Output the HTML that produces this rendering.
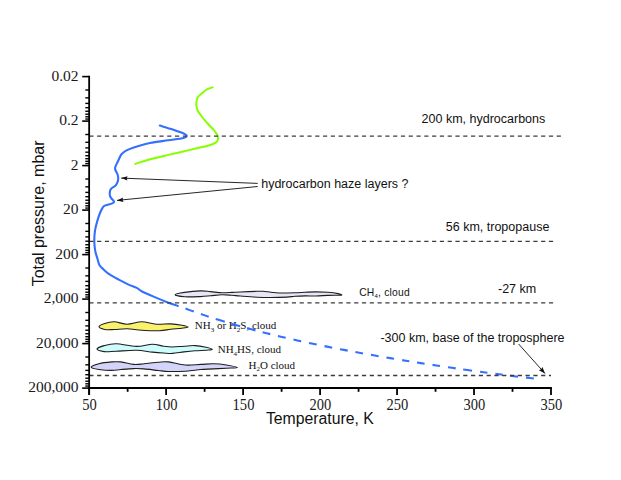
<!DOCTYPE html>
<html><head><meta charset="utf-8"><style>
html,body{margin:0;padding:0;background:#fff;}
svg{display:block;}
.tl{font-family:"Liberation Serif",serif;font-size:15.5px;fill:#1a1a1a;}
.ss{font-family:"Liberation Sans",sans-serif;fill:#111;}
.sf{font-family:"Liberation Serif",serif;fill:#111;}
</style></head><body>
<svg width="621" height="480" viewBox="0 0 621 480">
<rect width="621" height="480" fill="#fff"/>
<text class="ss" style="font-size:12.5px" x="421.6" y="123.4">200 km, hydrocarbons</text>
<text class="ss" style="font-size:12.5px" x="261.2" y="188.2">hydrocarbon haze layers ?</text>
<text class="ss" style="font-size:12.5px" x="445.8" y="231.4">56 km, tropopause</text>
<text class="ss" style="font-size:10.3px;letter-spacing:0.22px" x="359.2" y="295.8">CH<tspan style="font-size:6px" dy="2">4</tspan><tspan dy="-2">, cloud</tspan></text>
<text class="ss" style="font-size:12.5px" x="498" y="293">-27 km</text>
<text class="ss" style="font-size:12.5px" x="380.4" y="341.8">-300 km, base of the troposphere</text>
<text class="sf" style="font-size:11px" x="194.8" y="329.2">NH<tspan style="font-size:7px" dy="2.5">3</tspan><tspan dy="-2.5"> or H</tspan><tspan style="font-size:7px" dy="2.5">2</tspan><tspan dy="-2.5">S, cloud</tspan></text>
<text class="sf" style="font-size:11px" x="217.7" y="353.2">NH<tspan style="font-size:7px" dy="2.5">4</tspan><tspan dy="-2.5">HS, cloud</tspan></text>
<text class="sf" style="font-size:11px" x="248.5" y="368.8">H<tspan style="font-size:7px" dy="2.5">2</tspan><tspan dy="-2.5">O cloud</tspan></text>
<text class="ss" style="font-size:15.8px" x="319.9" y="423.5" text-anchor="middle">Temperature, K</text>
<text class="ss" style="font-size:16px" transform="translate(43.6,213.4) rotate(-90)" text-anchor="middle">Total pressure, mbar</text>
<path d="M175.1,294.7 C175.1,293.97 180.28,293.03 184.5,292.4 C188.72,291.77 196.07,291.03 200.4,290.9 C204.73,290.77 206.9,291.28 210.5,291.6 C214.1,291.92 218.38,292.67 222,292.8 C225.62,292.93 229.15,292.53 232.2,292.4 C235.25,292.27 236.17,292.18 240.3,292 C244.43,291.82 253.22,291.42 257,291.3 C260.78,291.18 260.67,291.15 263,291.3 C265.33,291.45 268.33,291.92 271,292.2 C273.67,292.48 275,292.9 279,293 C283,293.1 290.67,292.92 295,292.8 C299.33,292.68 301.5,292.45 305,292.3 C308.5,292.15 312.17,291.9 316,291.9 C319.83,291.9 324.33,292.02 328,292.3 C331.67,292.58 335.7,293.15 338,293.6 C340.3,294.05 341.8,294.73 341.8,295 C341.8,295.27 340.3,295.13 338,295.2 C335.7,295.27 331.67,295.27 328,295.4 C324.33,295.53 319.83,295.92 316,296 C312.17,296.08 308.5,295.85 305,295.9 C301.5,295.95 298,296.1 295,296.3 C292,296.5 291,296.9 287,297.1 C283,297.3 276,297.48 271,297.5 C266,297.52 262.12,297.45 257,297.2 C251.88,296.95 244.43,296.32 240.3,296 C236.17,295.68 235.25,295.52 232.2,295.3 C229.15,295.08 225.62,294.62 222,294.7 C218.38,294.78 214.1,295.48 210.5,295.8 C206.9,296.12 204.73,296.43 200.4,296.6 C196.07,296.77 188.72,297.12 184.5,296.8 C180.28,296.48 175.1,295.43 175.1,294.7Z" fill="#e6e6f6" stroke="#1e1e1e" stroke-width="1.1"/>
<path d="M99,326.6 C99,325.58 102.15,324.2 104.7,323.4 C107.25,322.6 110.55,321.67 114.3,321.8 C118.05,321.93 122.63,324.2 127.2,324.2 C131.77,324.2 136.87,321.8 141.7,321.8 C146.53,321.8 151.37,323.85 156.2,324.2 C161.03,324.55 166.4,323.72 170.7,323.9 C175,324.08 179.1,324.78 182,325.3 C184.9,325.82 188.1,326.52 188.1,327 C188.1,327.48 184.9,327.82 182,328.2 C179.1,328.58 174.47,328.88 170.7,329.3 C166.93,329.72 164.23,330.55 159.4,330.7 C154.57,330.85 147.07,330.52 141.7,330.2 C136.33,329.88 131.77,328.92 127.2,328.8 C122.63,328.68 118.05,329.38 114.3,329.5 C110.55,329.62 107.25,329.98 104.7,329.5 C102.15,329.02 99,327.62 99,326.6Z" fill="#faf26c" stroke="#1e1e1e" stroke-width="1.1"/>
<path d="M97,349.1 C97,348.1 100.9,346.5 104.1,345.6 C107.3,344.7 110.83,343.57 116.2,343.7 C121.57,343.83 130.27,346.32 136.3,346.4 C142.33,346.48 147.87,344.23 152.4,344.2 C156.93,344.17 160.15,345.73 163.5,346.2 C166.85,346.67 169.08,347 172.5,347 C175.92,347 180.25,346.43 184,346.2 C187.75,345.97 191.33,345.42 195,345.6 C198.67,345.78 203.13,346.65 206,347.3 C208.87,347.95 212.2,349.02 212.2,349.5 C212.2,349.98 208.87,349.98 206,350.2 C203.13,350.42 198.67,350.52 195,350.8 C191.33,351.08 187.75,351.47 184,351.9 C180.25,352.33 175.92,353.22 172.5,353.4 C169.08,353.58 166.85,353.22 163.5,353 C160.15,352.78 156.93,352.55 152.4,352.1 C147.87,351.65 142.33,350.45 136.3,350.3 C130.27,350.15 121.57,350.98 116.2,351.2 C110.83,351.42 107.3,351.95 104.1,351.6 C100.9,351.25 97,350.1 97,349.1Z" fill="#ccfcfc" stroke="#1e1e1e" stroke-width="1.1"/>
<path d="M91.2,367.3 C91.2,366.33 95.47,364.6 98.9,363.7 C102.33,362.8 108.15,362.2 111.8,361.9 C115.45,361.6 117.15,361.48 120.8,361.9 C124.45,362.32 129.83,364.08 133.7,364.4 C137.57,364.72 139.92,364.17 144,363.8 C148.08,363.43 154.13,362.52 158.2,362.2 C162.27,361.88 163.9,361.43 168.4,361.9 C172.9,362.37 179.82,364.58 185.2,365 C190.58,365.42 195.98,364.6 200.7,364.4 C205.42,364.2 209.22,363.7 213.5,363.8 C217.78,363.9 222.42,364.37 226.4,365 C230.38,365.63 237.4,367.07 237.4,367.6 C237.4,368.13 230.38,367.98 226.4,368.2 C222.42,368.42 217.78,368.68 213.5,368.9 C209.22,369.12 203.92,369.28 200.7,369.5 C197.48,369.72 196.78,369.92 194.2,370.2 C191.62,370.48 189.5,370.98 185.2,371.2 C180.9,371.42 172.9,371.62 168.4,371.5 C163.9,371.38 162.27,370.93 158.2,370.5 C154.13,370.07 148.08,369.22 144,368.9 C139.92,368.58 137.57,368.5 133.7,368.6 C129.83,368.7 124.45,369.2 120.8,369.5 C117.15,369.8 115.45,370.4 111.8,370.4 C108.15,370.4 102.33,370.02 98.9,369.5 C95.47,368.98 91.2,368.27 91.2,367.3Z" fill="#d4d4fa" stroke="#1e1e1e" stroke-width="1.1"/>
<path d="M212.6,87.3 C211.65,87.65 208.72,88.37 206.9,89.4 C205.08,90.43 203.27,92.12 201.7,93.5 C200.13,94.88 198.4,95.95 197.5,97.7 C196.6,99.45 196.3,101.92 196.3,104 C196.3,106.08 196.6,108.12 197.5,110.2 C198.4,112.28 199.97,114.24 201.7,116.5 C203.43,118.76 205.83,121.43 207.9,123.75 C209.97,126.07 212.5,128.41 214.1,130.4 C215.7,132.39 216.85,134.18 217.5,135.7 C218.15,137.22 218.3,138.35 218,139.5 C217.7,140.65 217.12,141.65 215.7,142.6 C214.28,143.55 213.58,144.03 209.5,145.2 C205.42,146.37 198.08,147.98 191.2,149.6 C184.32,151.22 175.33,153.22 168.2,154.9 C161.07,156.58 153.9,158.2 148.4,159.7 C142.9,161.2 137.4,163.2 135.2,163.9" fill="none" stroke="#86ff00" stroke-width="2" stroke-linecap="round" stroke-linejoin="round"/>
<path d="M159.8,125.6 C161.97,126.27 169.1,128.4 172.8,129.6 C176.5,130.8 179.7,131.8 182,132.8 C184.3,133.8 186.35,134.73 186.6,135.6 C186.85,136.47 186.57,137.22 183.5,138 C180.43,138.78 173.8,139.47 168.2,140.3 C162.6,141.13 155.63,141.8 149.9,143 C144.17,144.2 137.77,146.23 133.8,147.5 C129.83,148.77 128.18,149.43 126.1,150.6 C124.02,151.77 122.58,152.88 121.3,154.5 C120.02,156.12 119.27,158.55 118.4,160.3 C117.53,162.05 116.65,163.55 116.1,165 C115.55,166.45 114.85,167.42 115.1,169 C115.35,170.58 117.08,172.93 117.6,174.5 C118.12,176.07 118.22,177.12 118.2,178.4 C118.18,179.68 117.93,181.02 117.5,182.2 C117.07,183.38 116.65,184.42 115.6,185.5 C114.55,186.58 112.13,187.75 111.2,188.7 C110.27,189.65 110.22,190.07 110,191.2 C109.78,192.33 109.7,194.33 109.9,195.5 C110.1,196.67 110.52,197.2 111.2,198.2 C111.88,199.2 113.83,200.63 114,201.5 C114.17,202.37 113.73,202.72 112.2,203.4 C110.67,204.08 106.38,204.9 104.8,205.6 C103.22,206.3 103.47,206.45 102.7,207.6 C101.93,208.75 101.07,210.37 100.2,212.5 C99.33,214.63 98.37,217.38 97.5,220.4 C96.63,223.42 95.53,227.07 95,230.6 C94.47,234.13 94.25,238.15 94.3,241.6 C94.35,245.05 94.78,248.48 95.3,251.3 C95.82,254.12 96.7,256.17 97.4,258.5 C98.1,260.83 98.47,263.47 99.5,265.3 C100.53,267.13 101.87,267.93 103.6,269.5 C105.33,271.07 107.29,272.97 109.9,274.7 C112.51,276.43 116.13,278.25 119.25,279.9 C122.37,281.55 125.67,283.27 128.6,284.6 C131.53,285.93 134.63,286.8 136.8,287.9 C138.97,289 138.7,289.7 141.6,291.2 C144.5,292.7 149.85,295.03 154.2,296.9 C158.55,298.77 163.77,300.9 167.7,302.4 C171.63,303.9 176.12,305.32 177.8,305.9" fill="none" stroke="#3470ff" stroke-width="2.1" stroke-linecap="round" stroke-linejoin="round"/>
<path d="M185.5,308.6 L189.65,310.12 L193.8,311.6 M200.9,314.06 L204.8,315.38 L208.7,316.67 M215.7,318.92 L220.25,320.34 L224.8,321.73 M231.2,323.64 L235.7,324.94 L240.2,326.22 M247.1,328.13 L251.3,329.26 L255.5,330.37 M262.6,332.2 L266.45,333.17 L270.3,334.13 M278,335.99 L281.85,336.9 L285.7,337.79 M293.5,339.57 L297.35,340.42 L301.2,341.27 M309,342.94 L312.85,343.75 L316.7,344.55 M324.5,346.13 L328.35,346.9 L332.2,347.66 M340,349.17 L343.85,349.9 L347.7,350.62 M355.4,352.04 L359.2,352.74 L363,353.42 M370.9,354.82 L374.75,355.49 L378.6,356.16 M386.4,357.49 L390.2,358.13 L394,358.76 M402.2,360.11 L405.75,360.69 L409.3,361.26 M417,362.49 L420.8,363.09 L424.6,363.68 M432.5,364.9 L436.25,365.47 L440,366.03 M448,367.22 L451.85,367.79 L455.7,368.35 M463.2,369.43 L467.6,370.05 L472,370.67 M480.1,371.78 L483.75,372.28 L487.4,372.77 M495.4,373.83 L499.05,374.3 L502.7,374.77 M510,375.69 L514,376.18 L518,376.67 M526,377.62 L529.9,378.07 L533.8,378.51 " fill="none" stroke="#3470ff" stroke-width="2.1" stroke-linecap="butt"/>
<line x1="89.3" y1="136.1" x2="561" y2="136.1" stroke="#3c3c3c" stroke-width="1.3" stroke-dasharray="4.2 3.59"/>
<line x1="89.3" y1="241.3" x2="553.5" y2="241.3" stroke="#3c3c3c" stroke-width="1.3" stroke-dasharray="4.2 3.59"/>
<line x1="89.3" y1="302.8" x2="553.5" y2="302.8" stroke="#3c3c3c" stroke-width="1.3" stroke-dasharray="4.2 3.59"/>
<line x1="89.3" y1="375.5" x2="551" y2="375.5" stroke="#3c3c3c" stroke-width="1.3" stroke-dasharray="4.2 3.59"/>
<line x1="89.15" y1="75.8" x2="89.15" y2="394.8" stroke="#000" stroke-width="1.8"/>
<line x1="88.25" y1="388" x2="551.9" y2="388" stroke="#000" stroke-width="1.8"/>
<line x1="82.2" y1="76.6" x2="89.15" y2="76.6" stroke="#000" stroke-width="1.6"/>
<line x1="85.3" y1="90" x2="89.15" y2="90" stroke="#000" stroke-width="1.4"/>
<line x1="85.3" y1="97.83" x2="89.15" y2="97.83" stroke="#000" stroke-width="1.4"/>
<line x1="85.3" y1="103.39" x2="89.15" y2="103.39" stroke="#000" stroke-width="1.4"/>
<line x1="85.3" y1="107.7" x2="89.15" y2="107.7" stroke="#000" stroke-width="1.4"/>
<line x1="85.3" y1="111.23" x2="89.15" y2="111.23" stroke="#000" stroke-width="1.4"/>
<line x1="85.3" y1="114.21" x2="89.15" y2="114.21" stroke="#000" stroke-width="1.4"/>
<line x1="85.3" y1="116.79" x2="89.15" y2="116.79" stroke="#000" stroke-width="1.4"/>
<line x1="85.3" y1="119.06" x2="89.15" y2="119.06" stroke="#000" stroke-width="1.4"/>
<line x1="82.2" y1="121.1" x2="89.15" y2="121.1" stroke="#000" stroke-width="1.6"/>
<line x1="85.3" y1="134.5" x2="89.15" y2="134.5" stroke="#000" stroke-width="1.4"/>
<line x1="85.3" y1="142.33" x2="89.15" y2="142.33" stroke="#000" stroke-width="1.4"/>
<line x1="85.3" y1="147.89" x2="89.15" y2="147.89" stroke="#000" stroke-width="1.4"/>
<line x1="85.3" y1="152.2" x2="89.15" y2="152.2" stroke="#000" stroke-width="1.4"/>
<line x1="85.3" y1="155.73" x2="89.15" y2="155.73" stroke="#000" stroke-width="1.4"/>
<line x1="85.3" y1="158.71" x2="89.15" y2="158.71" stroke="#000" stroke-width="1.4"/>
<line x1="85.3" y1="161.29" x2="89.15" y2="161.29" stroke="#000" stroke-width="1.4"/>
<line x1="85.3" y1="163.56" x2="89.15" y2="163.56" stroke="#000" stroke-width="1.4"/>
<line x1="82.2" y1="165.6" x2="89.15" y2="165.6" stroke="#000" stroke-width="1.6"/>
<line x1="85.3" y1="179" x2="89.15" y2="179" stroke="#000" stroke-width="1.4"/>
<line x1="85.3" y1="186.83" x2="89.15" y2="186.83" stroke="#000" stroke-width="1.4"/>
<line x1="85.3" y1="192.39" x2="89.15" y2="192.39" stroke="#000" stroke-width="1.4"/>
<line x1="85.3" y1="196.7" x2="89.15" y2="196.7" stroke="#000" stroke-width="1.4"/>
<line x1="85.3" y1="200.23" x2="89.15" y2="200.23" stroke="#000" stroke-width="1.4"/>
<line x1="85.3" y1="203.21" x2="89.15" y2="203.21" stroke="#000" stroke-width="1.4"/>
<line x1="85.3" y1="205.79" x2="89.15" y2="205.79" stroke="#000" stroke-width="1.4"/>
<line x1="85.3" y1="208.06" x2="89.15" y2="208.06" stroke="#000" stroke-width="1.4"/>
<line x1="82.2" y1="210.1" x2="89.15" y2="210.1" stroke="#000" stroke-width="1.6"/>
<line x1="85.3" y1="223.5" x2="89.15" y2="223.5" stroke="#000" stroke-width="1.4"/>
<line x1="85.3" y1="231.33" x2="89.15" y2="231.33" stroke="#000" stroke-width="1.4"/>
<line x1="85.3" y1="236.89" x2="89.15" y2="236.89" stroke="#000" stroke-width="1.4"/>
<line x1="85.3" y1="241.2" x2="89.15" y2="241.2" stroke="#000" stroke-width="1.4"/>
<line x1="85.3" y1="244.73" x2="89.15" y2="244.73" stroke="#000" stroke-width="1.4"/>
<line x1="85.3" y1="247.71" x2="89.15" y2="247.71" stroke="#000" stroke-width="1.4"/>
<line x1="85.3" y1="250.29" x2="89.15" y2="250.29" stroke="#000" stroke-width="1.4"/>
<line x1="85.3" y1="252.56" x2="89.15" y2="252.56" stroke="#000" stroke-width="1.4"/>
<line x1="82.2" y1="254.6" x2="89.15" y2="254.6" stroke="#000" stroke-width="1.6"/>
<line x1="85.3" y1="268" x2="89.15" y2="268" stroke="#000" stroke-width="1.4"/>
<line x1="85.3" y1="275.83" x2="89.15" y2="275.83" stroke="#000" stroke-width="1.4"/>
<line x1="85.3" y1="281.39" x2="89.15" y2="281.39" stroke="#000" stroke-width="1.4"/>
<line x1="85.3" y1="285.7" x2="89.15" y2="285.7" stroke="#000" stroke-width="1.4"/>
<line x1="85.3" y1="289.23" x2="89.15" y2="289.23" stroke="#000" stroke-width="1.4"/>
<line x1="85.3" y1="292.21" x2="89.15" y2="292.21" stroke="#000" stroke-width="1.4"/>
<line x1="85.3" y1="294.79" x2="89.15" y2="294.79" stroke="#000" stroke-width="1.4"/>
<line x1="85.3" y1="297.06" x2="89.15" y2="297.06" stroke="#000" stroke-width="1.4"/>
<line x1="82.2" y1="299.1" x2="89.15" y2="299.1" stroke="#000" stroke-width="1.6"/>
<line x1="85.3" y1="312.5" x2="89.15" y2="312.5" stroke="#000" stroke-width="1.4"/>
<line x1="85.3" y1="320.33" x2="89.15" y2="320.33" stroke="#000" stroke-width="1.4"/>
<line x1="85.3" y1="325.89" x2="89.15" y2="325.89" stroke="#000" stroke-width="1.4"/>
<line x1="85.3" y1="330.2" x2="89.15" y2="330.2" stroke="#000" stroke-width="1.4"/>
<line x1="85.3" y1="333.73" x2="89.15" y2="333.73" stroke="#000" stroke-width="1.4"/>
<line x1="85.3" y1="336.71" x2="89.15" y2="336.71" stroke="#000" stroke-width="1.4"/>
<line x1="85.3" y1="339.29" x2="89.15" y2="339.29" stroke="#000" stroke-width="1.4"/>
<line x1="85.3" y1="341.56" x2="89.15" y2="341.56" stroke="#000" stroke-width="1.4"/>
<line x1="82.2" y1="343.6" x2="89.15" y2="343.6" stroke="#000" stroke-width="1.6"/>
<line x1="85.3" y1="357" x2="89.15" y2="357" stroke="#000" stroke-width="1.4"/>
<line x1="85.3" y1="364.83" x2="89.15" y2="364.83" stroke="#000" stroke-width="1.4"/>
<line x1="85.3" y1="370.39" x2="89.15" y2="370.39" stroke="#000" stroke-width="1.4"/>
<line x1="85.3" y1="374.7" x2="89.15" y2="374.7" stroke="#000" stroke-width="1.4"/>
<line x1="85.3" y1="378.23" x2="89.15" y2="378.23" stroke="#000" stroke-width="1.4"/>
<line x1="85.3" y1="381.21" x2="89.15" y2="381.21" stroke="#000" stroke-width="1.4"/>
<line x1="85.3" y1="383.79" x2="89.15" y2="383.79" stroke="#000" stroke-width="1.4"/>
<line x1="85.3" y1="386.06" x2="89.15" y2="386.06" stroke="#000" stroke-width="1.4"/>
<line x1="82.2" y1="388.1" x2="89.15" y2="388.1" stroke="#000" stroke-width="1.6"/>
<line x1="89.15" y1="388" x2="89.15" y2="395" stroke="#000" stroke-width="1.8"/>
<line x1="127.64" y1="388" x2="127.64" y2="391.8" stroke="#000" stroke-width="1.8"/>
<line x1="166.12" y1="388" x2="166.12" y2="395" stroke="#000" stroke-width="1.8"/>
<line x1="204.61" y1="388" x2="204.61" y2="391.8" stroke="#000" stroke-width="1.8"/>
<line x1="243.1" y1="388" x2="243.1" y2="395" stroke="#000" stroke-width="1.8"/>
<line x1="281.59" y1="388" x2="281.59" y2="391.8" stroke="#000" stroke-width="1.8"/>
<line x1="320.08" y1="388" x2="320.08" y2="395" stroke="#000" stroke-width="1.8"/>
<line x1="358.56" y1="388" x2="358.56" y2="391.8" stroke="#000" stroke-width="1.8"/>
<line x1="397.05" y1="388" x2="397.05" y2="395" stroke="#000" stroke-width="1.8"/>
<line x1="435.54" y1="388" x2="435.54" y2="391.8" stroke="#000" stroke-width="1.8"/>
<line x1="474.02" y1="388" x2="474.02" y2="395" stroke="#000" stroke-width="1.8"/>
<line x1="512.51" y1="388" x2="512.51" y2="391.8" stroke="#000" stroke-width="1.8"/>
<line x1="551" y1="388" x2="551" y2="395" stroke="#000" stroke-width="1.8"/>
<text x="78.6" y="80.7" class="tl" text-anchor="end">0.02</text>
<text x="78.6" y="125.2" class="tl" text-anchor="end">0.2</text>
<text x="78.6" y="169.7" class="tl" text-anchor="end">2</text>
<text x="78.6" y="214.2" class="tl" text-anchor="end">20</text>
<text x="78.6" y="258.7" class="tl" text-anchor="end">200</text>
<text x="78.6" y="303.2" class="tl" text-anchor="end">2,000</text>
<text x="78.6" y="347.7" class="tl" text-anchor="end">20,000</text>
<text x="78.6" y="392.2" class="tl" text-anchor="end">200,000</text>
<text transform="translate(89.55,410.2) scale(0.92,1)" class="tl" style="font-size:15.8px" text-anchor="middle">50</text>
<text transform="translate(166.53,410.2) scale(0.92,1)" class="tl" style="font-size:15.8px" text-anchor="middle">100</text>
<text transform="translate(243.5,410.2) scale(0.92,1)" class="tl" style="font-size:15.8px" text-anchor="middle">150</text>
<text transform="translate(320.48,410.2) scale(0.92,1)" class="tl" style="font-size:15.8px" text-anchor="middle">200</text>
<text transform="translate(397.45,410.2) scale(0.92,1)" class="tl" style="font-size:15.8px" text-anchor="middle">250</text>
<text transform="translate(474.42,410.2) scale(0.92,1)" class="tl" style="font-size:15.8px" text-anchor="middle">300</text>
<text transform="translate(551.4,410.2) scale(0.92,1)" class="tl" style="font-size:15.8px" text-anchor="middle">350</text>
<line x1="257.7" y1="183.4" x2="121.2" y2="178.1" stroke="#1a1a1a" stroke-width="0.95"/>
<path d="M121.2,178.1 L127.58,176.15 L126.74,178.32 L127.41,180.54Z" fill="#111"/>
<line x1="257.7" y1="186.5" x2="117" y2="200.4" stroke="#1a1a1a" stroke-width="0.95"/>
<path d="M117,200.4 L123.05,197.59 L122.52,199.85 L123.49,201.97Z" fill="#111"/>
<line x1="518.6" y1="344" x2="545" y2="373.5" stroke="#1a1a1a" stroke-width="0.95"/>
<path d="M545,373.5 L538.88,370.26 L541.19,369.24 L542.45,367.06Z" fill="#111"/>
</svg>
</body></html>
